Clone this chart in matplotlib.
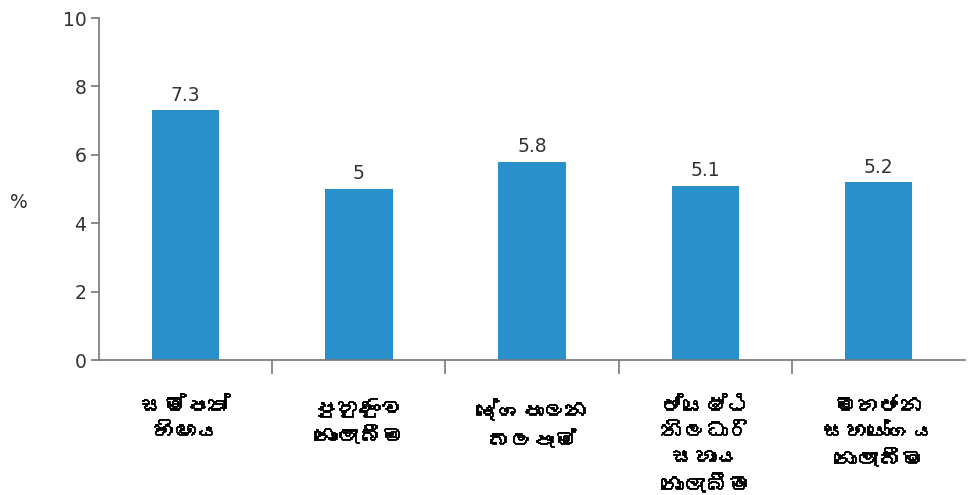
import matplotlib
matplotlib.use("Agg")
import matplotlib.pyplot as plt
import matplotlib.patheffects as pe
from matplotlib import font_manager
from matplotlib.ft2font import FT2Font

categories = ["සම්පත්\nහිඟය", "පුහුණුව\nනොලැබීම", "දේශපාලන\nබලපෑම්",
              "ජ්යෙෂ්ඨ\nනිලධාරි\nසහාය\nනොලැබීම", "මහජන\nසහයෝගය\nනොලැබීම"]
values = [7.3, 5.0, 5.8, 5.1, 5.2]
value_labels = ["7.3", "5", "5.8", "5.1", "5.2"]
yticks = [0, 2, 4, 6, 8, 10]


def sinhala_family():
    # look for any installed font that covers the Sinhala block
    for f in font_manager.fontManager.ttflist:
        try:
            if 0x0DC3 in FT2Font(f.fname).get_charmap():
                return f.name
        except Exception:
            pass
    return "DejaVu Sans"


si_font = sinhala_family()

fig = plt.figure(figsize=(9.7, 4.95), dpi=100)
ax = fig.add_axes([0.102, 0.2727, 0.893, 0.6909])

x = list(range(len(values)))
bars = ax.bar(x, values, width=0.39, color="#2990CB")
for b, lab in zip(bars, value_labels):
    ax.annotate(lab, (b.get_x() + b.get_width() / 2, b.get_height()),
                xytext=(0, 4), textcoords="offset points",
                ha="center", va="bottom", fontsize=13.5, color="#333333")

ax.set_xlim(-0.5, len(values) - 0.5)
ax.set_ylim(0, 10)
ax.set_yticks(yticks)
ax.tick_params(axis="y", labelsize=13.5, labelcolor="#333333", color="#777777",
               length=6, width=1.2, pad=3)

# category names sit between the boundary ticks
ax.set_xticks([i + 0.5 for i in x[:-1]])
ax.set_xticklabels([])
ax.tick_params(axis="x", which="major", color="#777777", length=10, width=1.2)
ax.set_xticks(x, minor=True)
labels = ax.set_xticklabels(categories, minor=True, fontsize=16, fontweight="bold",
                            family=[si_font, "DejaVu Sans"], linespacing=1.5)
for t in labels:
    # thicken strokes, the Sinhala face has no bold weight
    t.set_path_effects([pe.withStroke(linewidth=0.6, foreground="black")])
ax.tick_params(axis="x", which="minor", length=0, pad=27)

for s in ["top", "right"]:
    ax.spines[s].set_visible(False)
for s in ["left", "bottom"]:
    ax.spines[s].set_color("#777777")
    ax.spines[s].set_linewidth(1.2)

fig.text(0.019, 0.59, "%", fontsize=13.5, color="#333333", ha="center", va="center")

fig.savefig("out.png", dpi=100)
